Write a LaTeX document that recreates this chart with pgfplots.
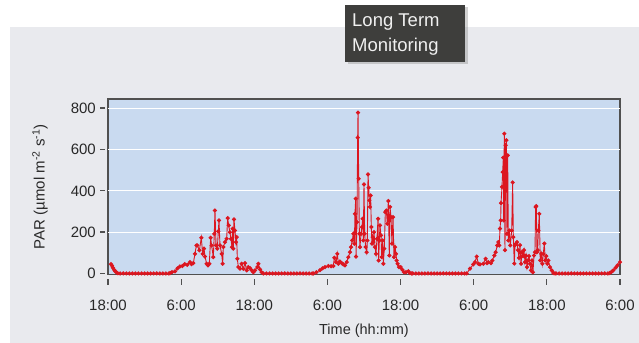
\documentclass[border=0pt]{standalone}
\usepackage{fontspec}
\setmainfont{Liberation Sans}
\usepackage{pgfplots}
\pgfplotsset{compat=1.18}
\usetikzlibrary{shadows}
\definecolor{panel}{RGB}{233,234,238}
\definecolor{plotbg}{RGB}{201,218,240}
\definecolor{framec}{RGB}{80,80,80}
\definecolor{tickc}{RGB}{80,80,80}
\definecolor{textc}{RGB}{40,40,40}
\definecolor{datared}{RGB}{220,22,32}
\definecolor{boxbg}{RGB}{62,62,60}
\newcommand{\xtl}[1]{\vbox{\hbox to 0pt{\hss\color{tickc}\vrule width 1.2bp height 5.5bp depth 0pt\hss}\vskip 8bp\hbox to 0pt{\hss #1\hss}}}
\newcommand{\ytl}[1]{#1\hspace{4.5bp}{\color{tickc}\vrule width 4.5bp height 6bp depth -4.8bp}}
\begin{document}
\begin{tikzpicture}
\fill[white] (0bp,0bp) rectangle (639bp,343bp);
\fill[panel] (10bp,0bp) rectangle (639bp,316bp);
\fill[boxbg, drop shadow={opacity=0.35, shadow xshift=2.5bp, shadow yshift=-2.5bp}] (345bp,281bp) rectangle (465bp,338bp);
\node[anchor=base west, inner sep=0pt, text={rgb,255:red,240;green,240;blue,240}, font=\fontsize{18.5bp}{22bp}\selectfont] at (352bp,316bp) {Long Term};
\node[anchor=base west, inner sep=0pt, text={rgb,255:red,240;green,240;blue,240}, font=\fontsize{18.5bp}{22bp}\selectfont] at (352bp,291bp) {Monitoring};
\begin{axis}[
  at={(108bp,68.5bp)}, anchor=south west,
  scale only axis, width=512bp, height=175.5bp,
  xmin=0, xmax=84, ymin=-5, ymax=845,
  axis background/.style={fill=plotbg},
  axis line style={framec, line width=1.3bp},
  tick pos=left, major tick length=0pt,
  xtick={0,12,24,36,48,60,72,84},
  xticklabels={\xtl{18:00},\xtl{6:00},\xtl{18:00},\xtl{6:00},\xtl{18:00},\xtl{6:00},\xtl{18:00},\xtl{6:00}},
  ytick={0,200,400,600,800},
  yticklabels={\ytl{0},\ytl{200},\ytl{400},\ytl{600},\ytl{800}},
  extra y ticks={200,400,600,800},
  extra y tick labels={},
  extra y tick style={ymajorgrids=true, grid style={white, line width=1.2bp}},
  /pgf/number format/assume math mode=true,
  tick label style={font=\fontsize{15bp}{18bp}\selectfont, text=textc},
  xticklabel style={anchor=north, inner sep=0pt, yshift=-4.5bp},
  yticklabel style={anchor=east, inner sep=0pt, xshift=-3bp},
  every axis x label/.style={at={(axis description cs:0.5,0)}, anchor=center, yshift=-56.5bp, font=\fontsize{14.5bp}{17bp}\selectfont, text=textc},
  every axis y label/.style={at={(axis description cs:0,0.5)}, anchor=center, xshift=-68bp, rotate=90, font=\fontsize{15bp}{18bp}\selectfont, text=textc},
  xlabel={Time (hh:mm)},
  ylabel={PAR (µmol m\textsuperscript{-2} s\textsuperscript{-1})},
]
\addplot[datared, line width=0.9bp, mark=*, mark size=1.6bp, mark options={fill=datared, draw=datared}] coordinates {
(0.5,45) (0.65,38) (0.8,28) (1.0,18) (1.2,10) (1.4,5) (1.6,1) (2.0,0)
(2.5,0) (3.0,0) (3.5,0) (4.0,0) (4.5,0) (5.0,0) (5.5,0) (6.0,0) (6.5,0) (7.0,0) (7.5,0) (8.0,0) (8.5,0) (9.0,0) (9.5,0) (10.0,0)
(10.2,2) (10.5,6) (11.0,10) (11.4,25) (11.8,34) (12.2,36) (12.6,45) (13.0,42) (13.45,55) (13.7,45) (14.0,50)
(14.27,95) (14.5,136) (14.66,136) (14.99,112) (15.31,173) (15.53,95) (15.75,120) (15.91,82) (16.19,47) (16.4,39)
(16.62,47) (16.84,173) (17.0,136) (17.28,79) (17.44,192) (17.55,305) (17.72,136) (17.93,120) (18.1,204) (18.21,257)
(18.37,136) (18.65,95) (18.81,47) (18.92,128) (19.19,152) (19.47,168) (19.63,268) (19.8,233) (20.0,200) (20.18,168)
(20.34,128) (20.45,217) (20.56,120) (20.67,262) (20.83,208) (20.99,152) (21.11,176) (21.22,71) (21.38,31) (21.66,23)
(21.93,47) (22.2,23) (22.48,50) (22.75,15) (23.02,31) (23.3,26) (23.57,15) (23.84,6) (24.1,15) (24.5,31) (24.66,47)
(24.94,20) (25.2,6) (25.48,0)
(26.0,0) (26.5,0) (27.0,0) (27.5,0) (28.0,0) (28.5,0) (29.0,0) (29.5,0) (30.0,0) (30.5,0) (31.0,0) (31.5,0) (32.0,0) (32.5,0) (33.0,0) (33.5,0)
(33.69,0) (34.2,6) (34.78,16) (35.2,25) (35.6,31) (36.15,36) (36.6,35) (36.97,36) (37.13,76) (37.41,55) (37.63,95)
(37.79,47) (38.06,58) (38.34,50) (38.61,44) (38.88,39) (39.16,55) (39.43,79) (39.7,103) (39.87,128) (40.08,160)
(40.25,192) (40.42,144) (40.52,289) (40.64,362) (40.69,82) (40.85,249) (40.96,658) (41.02,779) (41.13,459) (41.24,192)
(41.34,128) (41.51,192) (41.67,225) (41.78,265) (41.89,160) (42.0,431) (42.11,192) (42.27,128) (42.44,103) (42.55,160)
(42.66,480) (42.77,415) (42.88,354) (42.98,322) (43.09,378) (43.2,225) (43.31,144) (43.42,176) (43.53,152) (43.64,200)
(43.8,128) (43.97,95) (44.13,168) (44.3,265) (44.41,63) (44.52,160) (44.62,233) (44.79,184) (44.9,79) (45.06,160)
(45.17,47) (45.33,120) (45.5,297) (45.66,305) (45.83,241) (45.99,351) (46.15,87) (46.27,322) (46.43,273) (46.59,144)
(46.76,273) (46.92,79) (47.09,128) (47.25,95) (47.36,63) (47.52,47) (47.74,31) (48.02,31) (48.29,18) (48.56,6)
(48.89,6) (49.27,11) (49.54,2) (49.81,0)
(50.0,0) (50.5,0) (51.0,0) (51.5,0) (52.0,0) (52.5,0) (53.0,0) (53.5,0) (54.0,0) (54.5,0) (55.0,0) (55.5,0) (56.0,0) (56.5,0) (57.0,0) (57.5,0) (58.0,0) (58.5,0)
(58.85,0) (59.39,23) (59.94,44) (60.21,55) (60.49,82) (60.75,47) (61.03,44) (61.57,47) (61.96,71) (62.18,50) (62.39,55)
(62.83,50) (63.05,63) (63.38,87) (63.6,103) (63.87,136) (64.04,152) (64.2,136) (64.31,217) (64.42,257) (64.48,341)
(64.64,419) (64.75,491) (64.86,561) (64.91,257) (65.02,677) (65.13,113) (65.24,621) (65.35,645) (65.46,192) (65.57,572)
(65.68,160) (65.84,208) (66.01,136) (66.23,208) (66.39,441) (66.5,176) (66.66,48) (66.77,137) (66.94,145) (67.1,152)
(67.26,113) (67.43,76) (67.59,137) (67.76,47) (67.92,103) (68.08,84) (68.25,113) (68.41,55) (68.58,87) (68.74,31)
(68.9,63) (69.07,84) (69.23,47) (69.4,15) (69.56,63) (69.72,6) (69.89,87) (70.05,103) (70.16,322) (70.27,326)
(70.38,103) (70.49,113) (70.6,208) (70.76,289) (70.92,63) (71.09,95) (71.25,47) (71.42,95) (71.58,145) (71.74,63)
(71.91,84) (72.07,47) (72.24,63) (72.51,31) (72.79,15) (73.06,2) (73.33,0)
(73.5,0) (74.0,0) (74.5,0) (75.0,0) (75.5,0) (76.0,0) (76.5,0) (77.0,0) (77.5,0) (78.0,0) (78.5,0) (79.0,0) (79.5,0) (80.0,0) (80.5,0) (81.0,0) (81.5,0) (82.0,0)
(82.3,2) (82.6,8) (82.9,15) (83.3,28) (83.6,39) (84.0,55)
};
\end{axis}
\end{tikzpicture}
\end{document}
